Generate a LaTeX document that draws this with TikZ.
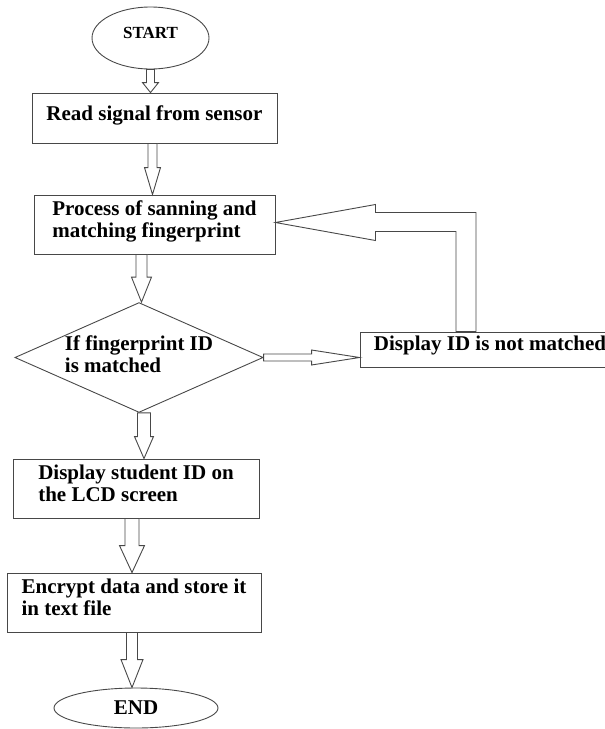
\documentclass[tikz,border=0pt]{standalone}
\usepackage{fontspec}
\setmainfont{Liberation Serif}
\usetikzlibrary{shapes.geometric}
\usetikzlibrary{calc}
\definecolor{linegray}{RGB}{72,72,72}
\def\boxfont{\fontsize{21}{22.5}\selectfont\bfseries}
\def\termfont{\fontsize{17}{20}\selectfont\bfseries}

% hollow block arrow: start, tip, shaft half width, head half width, head length
\newcommand{\blockarrow}[5]{%
  \coordinate (bs) at (#1);
  \coordinate (bt) at (#2);
  \coordinate (bh) at ($(bt)!#5!(bs)$);
  \draw[flow arrow] ($(bs)!#3!90:(bt)$) -- ($(bh)!#3!90:(bt)$) -- ($(bh)!#4!90:(bt)$)
    -- (bt) -- ($(bh)!#4!-90:(bt)$) -- ($(bh)!#3!-90:(bt)$) -- ($(bs)!#3!-90:(bt)$) -- cycle;}

\begin{document}
\begin{tikzpicture}[x=1pt,y=-1pt,line width=0.9pt,
  box/.style={rectangle,draw=linegray,align=left,font=\boxfont,inner sep=0pt,text depth=10.5pt},
  term/.style={ellipse,draw=linegray,inner sep=0pt},
  decision/.style={diamond,draw=linegray,align=left,font=\boxfont,inner sep=0pt},
  flow arrow/.style={draw=linegray,fill=white,line join=miter}]

\useasboundingbox (0,0) rectangle (605,729);
\clip (0,0) rectangle (605,729);

  \node[term,minimum width=117,minimum height=62,font=\termfont,text depth=10.5pt] at (150.5,38) (start) {START};
  \node[box,minimum width=245,minimum height=50] at (154.5,118) (read) {Read signal from sensor};
  \node[box,minimum width=241,minimum height=59] at (154.5,224.5) (process)
    {Process of sanning and\\matching fingerprint};
  \node[decision,minimum width=246,minimum height=109,aspect=2.26,text depth=7pt] at (139,357.5) (check)
    {If fingerprint ID\\is matched};
  \node[box,minimum width=260,minimum height=35,text depth=13.5pt] at (490,349.5) (notmatched)
    {Display ID is not matched};
  \node[box,minimum width=246,minimum height=59] at (136,488.5) (student)
    {Display student ID on\\the LCD screen};
  \node[box,minimum width=254,minimum height=59] at (134,602.5) (encrypt)
    {Encrypt data and store it\\in text file};
  \node[term,minimum width=164,minimum height=40,font=\boxfont] at (136,708) (end) {END};

  \blockarrow{start.south}{start.south |- read.north}{4pt}{8pt}{10pt}
  \blockarrow{$(read.south)+(-2,0)$}{$(read.south |- process.north)+(-2,0)$}{4.5pt}{8pt}{27pt}
  \blockarrow{$(check.north |- process.south)+(2.5,0)$}{$(check.north)+(2.5,0)$}{5.5pt}{10pt}{25pt}
  \blockarrow{$(check.south)+(5,0)$}{$(check.south |- student.north)+(5,0)$}{6.5pt}{9.5pt}{22pt}
  \blockarrow{$(student.south)+(-4,0)$}{$(student.south |- encrypt.north)+(-4,0)$}{7pt}{12.5pt}{27pt}
  \blockarrow{$(end.north |- encrypt.south)+(-4,0)$}{$(end.north)+(-4,0)$}{5.5pt}{11pt}{28pt}
  \blockarrow{check.east}{check.east -| notmatched.west}{3.5pt}{7.5pt}{48pt}

  % back to the scanning step
  \draw[flow arrow] ([xshift=-34pt]notmatched.north) |- ($(process.east)+(100,7)$)
    -- ($(process.east)+(100,16)$) -- ([yshift=2pt]process.east) -- ($(process.east)+(100,-20)$)
    -- ($(process.east)+(100,-12)$) -| ([xshift=-14pt]notmatched.north) -- cycle;

\end{tikzpicture}
\end{document}
